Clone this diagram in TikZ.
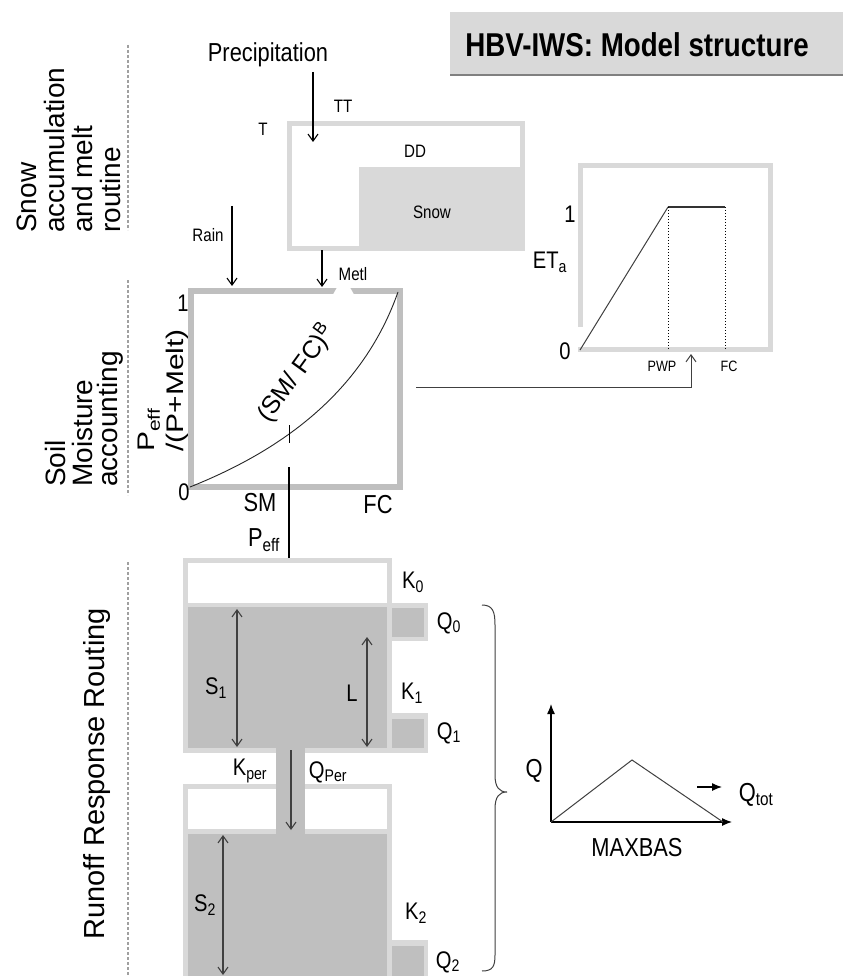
\documentclass[tikz,border=0pt]{standalone}
\usepackage{fontspec}
\usepackage{graphicx}
\setmainfont[FakeStretch=0.84]{Liberation Sans}
\newfontfamily\rotf{Liberation Sans}
\usetikzlibrary{arrows.meta}
\definecolor{lg}{HTML}{D9D9D9}
\definecolor{mg}{HTML}{BFBFBF}
\definecolor{dg}{HTML}{404040}
\definecolor{sepc}{HTML}{A0A0A0}
\newcommand{\rsq}[1]{\scalebox{1}[0.8]{#1}}
\begin{document}
\begin{tikzpicture}[x=1pt,y=-1pt,
  lbl/.style={inner sep=0pt},
  s15/.style={lbl,font=\fontsize{15}{17}\selectfont},
  s18/.style={lbl,font=\fontsize{18}{20}\selectfont},
  s24/.style={lbl,font=\fontsize{24}{26}\selectfont},
  s26/.style={lbl,font=\fontsize{26}{28}\selectfont},
  rot/.style={inner sep=0pt,rotate=90,anchor=west,font=\rotf\fontsize{28}{30}\selectfont},
  barb/.style={-{Straight Barb[length=7pt,width=10pt]},line width=1.1pt},
  dbarb/.style={{Straight Barb[length=7pt,width=10pt]}-{Straight Barb[length=7pt,width=10pt]},line width=1.1pt,draw=dg},
  fillarr/.style={-{Latex[length=10pt,width=8pt]},line width=1.2pt},
  sepline/.style={draw=sepc,dash pattern=on 3pt off 2pt,line width=1.5pt}]
\useasboundingbox (0,0) rectangle (843,976);
\fill[white] (0,0) rectangle (843,976);

% title
\fill[lg] (450,12) rectangle (843,75);
\draw[gray,line width=1.5pt] (450,75) -- (843,75);
\node[lbl,font=\bfseries\fontsize{33}{35}\selectfont] (title) at (637,45) {HBV-IWS: Model structure};

% separators
\coordinate (d1a) at (128,45);  \coordinate (d1b) at (128,230);
\coordinate (d2a) at (128,280); \coordinate (d2b) at (128,495);
\coordinate (d3a) at (128,562); \coordinate (d3b) at (128,976);
\draw[sepline] (d1a) -- (d1b);
\draw[sepline] (d2a) -- (d2b);
\draw[sepline] (d3a) -- (d3b);

% left labels
\node[rot] (l1) at (27,233) {Snow};
\node[rot] (l2) at (54,233) {accumulation};
\node[rot] (l3) at (82,233) {and melt};
\node[rot] (l4) at (110,233) {routine};
\node[rot] (l5) at (55,487) {Soil};
\node[rot] (l6) at (82,487) {Moisture};
\node[rot] (l7) at (110,487) {accounting};
\node[rot,font=\rotf\fontsize{29}{31}\selectfont] (l8) at (97,940) {Runoff Response Routing};

% snow routine
\node[lbl,font=\fontsize{26}{28}\selectfont] (prec) at (268,55) {Precipitation};
\fill[lg] (287,121) rectangle (525,251);
\fill[white] (292,126) rectangle (520,167);
\fill[white] (292,126) rectangle (359,246);
\node[s18] (tt) at (343,106) {TT};
\node[s18] (tl) at (263,129) {T};
\node[s18] (dd) at (415,151) {DD};
\node[s18] (snow) at (432,212) {Snow};
\node[s18] (rain) at (208,235) {Rain};
\node[s18] (metl) at (353,274) {Metl};
\coordinate (pa) at (313,72); \coordinate (pb) at (313,142);
\draw[barb] (pa) -- (pb);
\coordinate (ra) at (232,206); \coordinate (rb) at (232,286);
\draw[barb] (ra) -- (rb);
\coordinate (ma) at (322,250); \coordinate (mb) at (322,287);
\draw[barb] (ma) -- (mb);

% soil moisture box
\draw[mg,line width=6pt] (191,291) rectangle (400,487);
\fill[white] (337,287.5) -- (350,287.5) -- (354,294.5) -- (333,294.5) -- cycle;
\coordinate (c0) at (190,487); \coordinate (c1) at (398,292);
\draw[line width=0.9pt,black!85] (c0) .. controls (270,455) and (360,400) .. (c1);
\coordinate (tka) at (289,425); \coordinate (tkb) at (289,443);
\draw[line width=1pt] (tka) -- (tkb);
\node[lbl,rotate=54,font=\rotf\fontsize{25}{27}\selectfont] (sfc) at (296,373) {(SM/ FC)\textsuperscript{B}};
\node[s24] (one) at (183,303) {1};
\node[s24] (zero) at (184,492) {0};
\node[s26] (sm) at (260,503) {SM};
\node[s26] (fc) at (378,505) {FC};
\node[s26] (peff) at (264,540) {P\textsubscript{eff}};
\node[rot,font=\rotf\fontsize{30}{32}\selectfont] (ya) at (149,452) {\rsq{P\textsubscript{eff}}};
\node[rot,font=\rotf\fontsize{30}{32}\selectfont] (yb) at (177,452) {\rsq{/(P+Melt)}};
\coordinate (pea) at (289,467); \coordinate (peb) at (289,578);
\draw[barb] (pea) -- (peb);

% link to ET box
\coordinate (ea) at (416,387); \coordinate (eb) at (691,354);
\draw[barb,draw=dg,line width=1pt] (ea) -| (eb);

% ET box
\draw[lg,line width=5pt] (580.5,165.5) rectangle (770.5,349.5);
\fill[white] (575,327) rectangle (584,347);
\coordinate (et0) at (580,350); \coordinate (et1) at (668,207); \coordinate (et2) at (725,207);
\draw[dg,line width=1pt] (et0) -- (et1);
\draw[black!80,line width=2pt] (et1) -- (et2);
\draw[dotted,line width=1pt] (et1) -- (668,350);
\draw[dotted,line width=1pt] (et2) -- (725,350);
\node[s24] (eone) at (570,214) {1};
\node[s24] (eta) at (550,262) {ET\textsubscript{a}};
\node[s24] (ezero) at (565,351) {0};
\node[s15] (pwp) at (662,366) {PWP};
\node[s15] (efc) at (729,366) {FC};

% upper reservoir
\fill[lg] (183,558) rectangle (392,753);
\fill[white] (188,563) rectangle (387,603);
\fill[mg] (188,607) rectangle (387,748);
\fill[lg] (387,603) rectangle (428,641);
\fill[mg] (392,608) rectangle (424,637);
\fill[lg] (387,713) rectangle (428,753);
\fill[mg] (392,719) rectangle (424,748);

% lower reservoir
\fill[lg] (183,784) rectangle (392,976);
\fill[white] (188,789) rectangle (387,829);
\fill[mg] (188,834) rectangle (387,976);
\fill[lg] (387,940) rectangle (428,976);
\fill[mg] (392,946) rectangle (424,976);
% percolation pipe
\fill[mg] (276,747) rectangle (305,834);

\coordinate (s1a) at (237,609); \coordinate (s1b) at (237,747);
\draw[dbarb] (s1a) -- (s1b);
\coordinate (la) at (367,637); \coordinate (lb) at (367,747);
\draw[dbarb] (la) -- (lb);
\coordinate (s2a) at (223,835); \coordinate (s2b) at (223,975);
\draw[dbarb] (s2a) -- (s2b);
\coordinate (qa) at (291,750); \coordinate (qb) at (291,830);
\draw[barb,draw=dg] (qa) -- (qb);

\node[s24] (k0) at (413,582) {K\textsubscript{0}};
\node[s24] (q0) at (449,623) {Q\textsubscript{0}};
\node[s24] (s1) at (216,688) {S\textsubscript{1}};
\node[s24] (ll) at (352,693) {L};
\node[s24] (k1) at (412,693) {K\textsubscript{1}};
\node[s24] (q1) at (449,733) {Q\textsubscript{1}};
\node[s24] (kper) at (250,771) {K\textsubscript{per}};
\node[s24] (qper) at (328,772) {Q\textsubscript{Per}};
\node[s24] (s2) at (205,905) {S\textsubscript{2}};
\node[s24] (k2) at (416,913) {K\textsubscript{2}};
\node[s24] (q2) at (448,962) {Q\textsubscript{2}};

% brace
\coordinate (bt) at (482,605); \coordinate (bm) at (507,792); \coordinate (bb) at (482,971);
\draw[dg,line width=1pt] (bt) .. controls (493,605) and (495,612) .. (495,625)
  -- (495,775) .. controls (495,787) and (499,792) .. (bm)
  .. controls (499,792) and (495,797) .. (495,809)
  -- (495,955) .. controls (495,966) and (493,971) .. (bb);

% hydrograph
\coordinate (ho) at (551,822); \coordinate (hy) at (551,704); \coordinate (hx) at (732,822);
\coordinate (hp) at (632,760); \coordinate (he) at (723,822);
\draw[fillarr] (ho) -- (hy);
\draw[fillarr] (ho) -- (hx);
\draw[dg,line width=1pt] (ho) -- (hp) -- (he);
\coordinate (qta) at (697,787); \coordinate (qtb) at (722,787);
\draw[fillarr] (qta) -- (qtb);
\node[s26] (hq) at (534,771) {Q};
\node[s26] (maxbas) at (637,848) {MAXBAS};
\node[s26] (qtot) at (756,795) {Q\textsubscript{tot}};
\end{tikzpicture}
\end{document}
